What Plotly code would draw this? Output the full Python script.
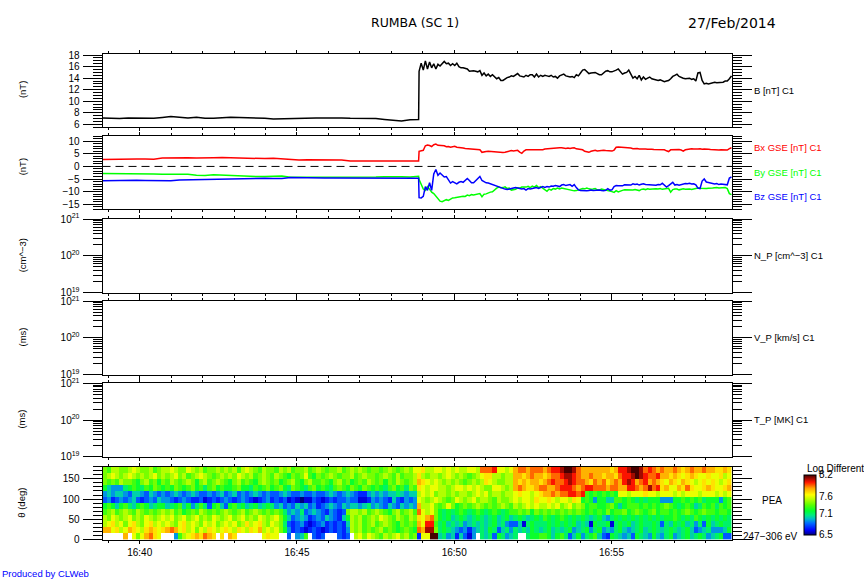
import pandas as pd
import plotly.graph_objects as go

START = pd.Timestamp("2014-02-27 16:38:49")
END = pd.Timestamp("2014-02-27 16:58:50")
W, H = 864, 584

# seconds after START for the magnetic field samples
mag_seconds = [16.3 * i for i in range(38)] + list(range(604, 1201, 4))

b_total = [
    7.1, 7.05, 7.0, 7.1, 7.05, 7.1, 7.05, 7.2, 7.35, 7.25, 7.1, 7.25, 7.05, 7.05, 7.2, 7.25, 7.2, 7.15, 7.2,
    7.05, 6.95, 7.0, 6.95, 7.05, 7.15, 7.1, 7.1, 7.15, 7.1, 7.05, 7.05, 7.1, 7.0, 6.85, 6.75, 6.6, 6.8, 6.85,
    15.2, 16.6, 15.4, 17.0, 15.6, 16.8, 15.8, 16.5, 15.6, 16.4,
    16.1, 16.5, 16.9, 16.5, 16.6, 16.2, 16.5, 16.2, 16.6, 16.0,
    15.8, 15.8, 15.7, 15.6, 15.2, 15.3, 15.3, 15.2, 15.1, 15.3,
    14.5, 14.9, 14.4, 14.7, 14.3, 14.6, 14.2, 13.9, 14.1, 13.6,
    13.6, 13.9, 14.1, 14.2, 14.4, 14.3, 14.6, 14.8, 14.4, 14.3,
    14.2, 14.5, 14.3, 14.6, 14.6, 14.2, 14.7, 14.2, 14.5, 14.3,
    14.5, 14.4, 14.3, 14.5, 14.2, 14.3, 14.0, 14.4, 14.6, 14.7,
    14.4, 14.3, 14.2, 14.3, 14.1, 14.6, 14.4, 14.9, 15.4, 15.5,
    15.1, 14.8, 14.9, 14.9, 15.0, 14.8, 14.6, 14.6, 14.9, 15.2,
    15.3, 15.1, 15.1, 15.2, 15.4, 15.6, 15.1, 14.7, 14.9, 15.0,
    15.4, 14.7, 14.0, 14.3, 13.9, 14.5, 13.7, 14.2, 13.8, 14.0,
    14.2, 13.9, 13.8, 13.7, 13.6, 13.7, 13.5, 13.4, 13.5, 13.6,
    13.9, 14.3, 14.5, 14.7, 14.3, 14.1, 14.0, 13.9, 14.0, 14.0,
    13.8, 13.9, 13.5, 14.9, 15.0, 13.6, 13.0, 13.1, 13.0, 13.1,
    13.2, 13.3, 13.2, 13.2, 13.3, 13.3, 13.5, 13.5, 13.9, 14.4,
]
bx_gse = [
    2.8, 2.9, 2.9, 3.0, 3.0, 3.0, 2.9, 3.3, 3.4, 3.4, 3.4, 3.3, 3.2, 3.4, 3.5, 3.4, 3.4, 3.4, 3.4,
    3.1, 3.2, 3.0, 2.6, 2.6, 2.7, 2.6, 2.6, 2.7, 2.6, 2.2, 2.2, 2.2, 2.2, 2.1, 2.1, 2.1, 2.2, 2.2,
    6.0, 6.2, 6.4, 8.2, 8.5, 8.3, 7.9, 8.6, 8.9, 8.4,
    8.3, 8.0, 8.2, 7.8, 7.9, 7.6, 7.8, 8.0, 7.6, 7.5,
    7.6, 7.3, 7.1, 7.0, 7.0, 6.9, 7.0, 6.8, 6.7, 6.6,
    5.6, 5.9, 5.9, 6.0, 5.9, 5.8, 5.6, 5.5, 5.4, 5.4,
    5.5, 5.6, 5.9, 6.2, 6.3, 6.1, 6.3, 6.4, 5.7, 5.2,
    6.1, 6.6, 6.6, 6.6, 6.7, 6.5, 6.6, 6.4, 6.5, 6.6,
    6.9, 7.0, 7.2, 7.1, 7.1, 7.2, 7.3, 7.4, 7.4, 7.3,
    7.1, 7.3, 7.1, 7.3, 7.4, 7.0, 6.9, 6.8, 6.6, 6.0,
    5.7, 5.6, 6.0, 6.3, 6.4, 6.1, 6.2, 6.5, 6.4, 6.3,
    6.2, 6.1, 6.1, 6.5, 7.6, 7.7, 7.6, 7.6, 7.4, 7.6,
    7.4, 7.3, 7.0, 7.1, 7.1, 6.9, 7.0, 6.9, 6.9, 6.8,
    6.9, 6.8, 6.7, 6.7, 6.7, 6.6, 6.7, 6.6, 6.2, 5.9,
    6.6, 6.7, 6.7, 6.8, 6.7, 6.5, 6.1, 6.6, 6.8, 7.0,
    7.0, 6.9, 6.8, 6.9, 7.0, 6.8, 6.9, 6.7, 6.8, 6.7,
    6.6, 6.7, 6.6, 6.5, 6.6, 6.6, 6.7, 6.5, 7.1, 7.4,
]
by_gse = [
    -2.8, -2.8, -2.9, -2.9, -3.0, -2.9, -3.0, -3.1, -3.1, -3.2, -3.1, -3.5, -3.6, -3.3, -3.5, -3.7, -3.9, -4.0, -4.0,
    -4.0, -3.8, -3.8, -4.3, -4.3, -4.4, -4.3, -4.3, -4.4, -4.3, -4.2, -4.3, -4.2, -4.2, -4.1, -4.0, -4.1, -4.2, -3.9,
    -5.2, -7.5, -9.0, -9.5, -8.0, -9.0, -10.2, -10.8, -11.8, -12.5,
    -13.8, -14.0, -13.6, -13.2, -13.5, -12.9, -12.5, -12.4, -12.2, -12.0,
    -12.0, -11.8, -11.9, -11.4, -11.6, -11.2, -11.3, -11.1, -11.0, -10.8,
    -12.0, -11.0, -10.9, -10.5, -10.2, -10.1, -9.2, -8.6, -8.2, -8.5,
    -8.4, -8.1, -8.8, -8.6, -9.4, -9.2, -9.1, -8.5, -8.6, -8.2,
    -8.3, -8.2, -7.9, -8.4, -7.8, -8.2, -7.6, -8.4, -8.0, -8.6,
    -9.2, -9.9, -9.0, -9.4, -8.8, -9.0, -8.6, -8.9, -8.6, -8.8,
    -8.9, -9.0, -9.3, -9.5, -9.7, -9.6, -9.3, -9.0, -8.8, -8.9,
    -8.6, -8.9, -9.1, -9.0, -8.8, -9.3, -9.4, -9.0, -9.2, -9.1,
    -9.4, -9.7, -10.0, -10.3, -9.6, -10.1, -9.7, -9.5, -9.3, -9.4,
    -9.2, -9.5, -9.4, -9.2, -9.3, -9.6, -9.1, -9.0, -9.2, -8.9,
    -9.1, -9.0, -8.9, -8.9, -9.0, -8.8, -9.1, -8.9, -8.8, -8.7,
    -10.2, -9.2, -9.0, -9.0, -9.3, -9.0, -8.9, -9.1, -9.0, -9.0,
    -9.2, -9.0, -8.9, -8.6, -8.7, -8.8, -8.6, -8.8, -8.7, -8.5,
    -8.6, -8.5, -8.4, -8.6, -8.5, -8.3, -8.4, -8.8, -10.8, -11.2,
]
bz_gse = [
    -5.7, -5.6, -5.5, -5.5, -5.5, -5.6, -5.7, -5.8, -5.7, -5.4, -5.3, -5.4, -5.2, -5.1, -5.1, -5.0, -4.9, -4.8, -4.7,
    -4.7, -4.8, -4.8, -4.4, -4.5, -4.6, -4.6, -4.6, -4.6, -4.6, -4.6, -4.6, -4.7, -4.6, -4.6, -4.6, -4.6, -4.6, -4.7,
    -12.4, -12.5, -11.9, -8.0, -9.5, -6.5, -9.5, -3.0, -1.2, -3.5,
    -2.6, -3.6, -4.2, -4.0, -5.2, -6.6, -6.0, -6.4, -6.9, -6.3,
    -6.0, -6.3, -5.4, -4.8, -5.6, -6.5, -6.5, -5.6, -5.0, -4.0,
    -5.6, -6.2, -6.5, -6.6, -6.9, -7.2, -7.5, -8.0, -8.4, -8.5,
    -8.8, -9.0, -9.2, -9.0, -8.8, -8.6, -8.4, -8.6, -8.8, -9.0,
    -8.8, -9.4, -8.8, -9.0, -8.8, -8.6, -8.4, -8.7, -8.2, -8.0,
    -8.3, -8.0, -8.2, -7.8, -7.9, -7.6, -7.8, -8.0, -7.4, -7.2,
    -7.6, -7.4, -7.2, -7.9, -7.2, -8.4, -9.3, -9.6, -9.7, -9.8,
    -9.7, -9.6, -9.4, -9.6, -9.5, -9.3, -9.4, -9.6, -9.7, -9.5,
    -8.8, -9.4, -9.3, -8.0, -7.6, -7.7, -7.6, -7.7, -7.3, -7.4,
    -7.2, -7.4, -6.9, -7.2, -7.0, -7.4, -7.1, -6.9, -7.2, -7.3,
    -7.1, -7.3, -7.4, -7.5, -7.2, -7.3, -6.7, -7.6, -8.2, -7.6,
    -7.0, -6.3, -7.4, -7.2, -7.5, -7.2, -7.0, -6.8, -6.9, -6.7,
    -7.0, -6.9, -7.3, -8.6, -8.8, -5.8, -5.0, -6.2, -6.4, -6.6,
    -6.8, -7.0, -6.8, -7.2, -7.0, -7.2, -7.4, -7.3, -4.6, -4.2,
]

# PEA pitch angle spectrogram: log flux x10, 0 = no data, one 8 s cell per value
pea_165 = [
    74, 73, 75, 75, 74, 74, 75, 76, 75, 74, 74, 75, 73, 74, 75,
    75, 76, 75, 74, 74, 76, 75, 74, 75, 73, 74, 74, 75, 74, 75,
    74, 75, 73, 75, 76, 75, 74, 73, 75, 74, 74, 73, 75, 74, 75,
    73, 74, 74, 75, 73, 74, 75, 74, 73, 74, 74, 75, 73, 74, 75,
    74, 75, 74, 73, 74, 74, 73, 74, 75, 74, 73, 74, 75, 74, 76,
    76, 77, 75, 75, 76, 76, 75, 76, 75, 76, 75, 75, 76, 76, 75,
    79, 79, 79, 80, 76, 76, 75, 76, 78, 79, 79, 78, 79, 79, 79,
    78, 79, 80, 80, 81, 82, 82, 81, 79, 78, 78, 78, 78, 78, 78,
    78, 77, 78, 80, 80, 81, 82, 82, 81, 79, 80, 79, 78, 79, 78,
    78, 79, 78, 77, 78, 79, 78, 78, 79, 78, 78, 77, 77, 78, 77,
]
pea_150 = [
    74, 75, 76, 75, 74, 75, 76, 75, 74, 75, 74, 75, 76, 74, 75,
    74, 75, 76, 74, 75, 73, 74, 75, 76, 75, 74, 73, 74, 75, 74,
    75, 74, 76, 75, 74, 75, 73, 74, 75, 74, 73, 75, 74, 73, 72,
    74, 73, 74, 76, 73, 72, 74, 73, 74, 75, 74, 73, 74, 74, 75,
    73, 74, 75, 74, 74, 73, 74, 75, 74, 73, 75, 73, 74, 74, 75,
    77, 75, 74, 75, 75, 74, 75, 76, 75, 74, 75, 74, 73, 74, 75,
    76, 77, 77, 75, 75, 74, 75, 75, 78, 78, 77, 78, 79, 78, 78,
    77, 78, 79, 79, 80, 81, 81, 80, 79, 78, 78, 79, 78, 78, 77,
    78, 78, 77, 79, 80, 80, 81, 82, 81, 80, 79, 79, 80, 78, 78,
    77, 78, 77, 76, 77, 78, 77, 76, 76, 77, 76, 76, 77, 75, 76,
]
pea_135 = [
    74, 73, 74, 73, 75, 74, 74, 73, 72, 74, 75, 73, 74, 72, 74,
    73, 75, 74, 73, 74, 75, 74, 72, 74, 75, 73, 74, 75, 74, 73,
    72, 74, 75, 73, 74, 73, 72, 74, 75, 74, 73, 74, 72, 73, 74,
    75, 73, 72, 74, 75, 73, 73, 74, 73, 72, 74, 75, 73, 74, 72,
    73, 74, 73, 75, 74, 73, 74, 72, 74, 73, 75, 74, 73, 74, 75,
    78, 77, 76, 75, 76, 75, 74, 75, 74, 75, 74, 73, 74, 75, 74,
    75, 77, 76, 75, 74, 74, 75, 75, 78, 77, 78, 77, 78, 78, 77,
    78, 79, 80, 79, 79, 80, 81, 80, 79, 79, 78, 77, 79, 78, 79,
    77, 78, 79, 78, 80, 81, 80, 78, 79, 80, 78, 79, 78, 77, 76,
    78, 77, 76, 78, 77, 76, 75, 76, 77, 76, 77, 76, 75, 76, 77,
]
pea_120 = [
    72, 70, 69, 69, 69, 71, 72, 73, 72, 71, 73, 72, 74, 73, 72,
    73, 72, 74, 73, 72, 73, 74, 72, 73, 71, 73, 74, 72, 73, 72,
    72, 73, 74, 72, 72, 71, 73, 72, 73, 74, 72, 73, 74, 72, 71,
    74, 73, 72, 71, 73, 74, 72, 73, 72, 71, 73, 74, 73, 72, 74,
    73, 72, 74, 73, 72, 73, 72, 71, 73, 74, 72, 73, 71, 74, 73,
    77, 76, 75, 76, 76, 75, 75, 74, 75, 76, 76, 75, 76, 75, 76,
    75, 74, 74, 76, 76, 75, 74, 75, 78, 79, 78, 77, 77, 78, 79,
    79, 78, 78, 79, 80, 80, 80, 79, 78, 79, 80, 80, 79, 79, 79,
    78, 79, 79, 78, 78, 80, 80, 79, 78, 79, 81, 79, 80, 77, 78,
    76, 76, 78, 77, 79, 77, 76, 76, 77, 78, 77, 76, 76, 77, 78,
]
pea_105 = [
    69, 70, 69, 70, 70, 69, 68, 70, 70, 69, 68, 70, 69, 68, 69,
    68, 69, 70, 69, 68, 69, 70, 69, 68, 68, 69, 68, 69, 70, 68,
    69, 70, 68, 69, 68, 69, 70, 69, 68, 69, 68, 68, 69, 70, 69,
    68, 68, 69, 68, 68, 69, 68, 68, 69, 70, 69, 68, 69, 70, 69,
    68, 67, 67, 69, 70, 69, 70, 69, 70, 70, 71, 70, 69, 70, 70,
    75, 76, 75, 76, 74, 75, 75, 74, 75, 74, 75, 75, 74, 75, 76,
    75, 76, 74, 75, 75, 74, 75, 75, 76, 77, 76, 76, 75, 76, 77,
    78, 78, 79, 78, 79, 79, 80, 80, 79, 80, 73, 72, 73, 72, 73,
    72, 73, 72, 76, 76, 75, 76, 76, 76, 77, 76, 76, 75, 76, 76,
    76, 75, 76, 75, 76, 76, 76, 75, 76, 76, 76, 75, 76, 75, 76,
]
pea_090 = [
    68, 69, 67, 68, 69, 68, 69, 70, 68, 67, 68, 69, 68, 70, 69,
    69, 68, 67, 68, 69, 68, 67, 67, 68, 66, 67, 68, 67, 68, 69,
    68, 67, 68, 69, 68, 67, 66, 67, 68, 69, 67, 68, 67, 68, 66,
    67, 66, 65, 66, 66, 68, 67, 66, 67, 68, 67, 68, 68, 69, 68,
    68, 66, 66, 67, 69, 68, 69, 68, 67, 70, 68, 67, 69, 68, 69,
    76, 75, 74, 75, 76, 75, 74, 73, 74, 76, 75, 74, 75, 76, 74,
    75, 75, 74, 73, 75, 74, 74, 75, 76, 75, 76, 76, 75, 77, 76,
    76, 77, 76, 75, 76, 76, 75, 77, 76, 72, 73, 72, 69, 72, 72,
    70, 70, 73, 73, 72, 73, 72, 71, 72, 71, 72, 72, 72, 69, 69,
    69, 72, 72, 73, 72, 73, 72, 73, 71, 72, 72, 72, 69, 72, 73,
]
pea_075 = [
    72, 73, 72, 70, 72, 73, 71, 70, 72, 73, 72, 70, 71, 72, 72,
    70, 71, 72, 73, 70, 72, 69, 71, 73, 71, 68, 72, 73, 70, 68,
    72, 73, 71, 72, 70, 71, 72, 70, 71, 72, 71, 69, 70, 68, 69,
    68, 70, 69, 70, 68, 69, 67, 68, 69, 70, 69, 68, 70, 69, 70,
    70, 69, 70, 71, 69, 70, 69, 68, 70, 69, 68, 70, 69, 70, 69,
    78, 75, 75, 76, 74, 73, 74, 76, 74, 72, 73, 74, 73, 74, 75,
    74, 73, 74, 73, 74, 75, 74, 73, 75, 74, 75, 76, 75, 76, 75,
    75, 76, 75, 76, 74, 75, 76, 74, 75, 74, 72, 73, 73, 72, 72,
    73, 74, 72, 70, 72, 73, 73, 73, 72, 73, 72, 73, 72, 73, 74,
    73, 72, 71, 72, 73, 72, 70, 71, 73, 72, 73, 71, 73, 72, 73,
]
pea_060 = [
    73, 74, 75, 73, 74, 75, 74, 73, 75, 74, 73, 74, 73, 74, 75,
    74, 75, 73, 74, 72, 73, 74, 73, 75, 74, 73, 74, 73, 74, 75,
    74, 73, 74, 75, 73, 74, 75, 74, 73, 74, 73, 74, 73, 71, 69,
    70, 69, 71, 68, 69, 70, 69, 68, 67, 69, 68, 67, 68, 74, 75,
    75, 74, 75, 73, 74, 75, 74, 73, 72, 74, 75, 73, 74, 75, 73,
    79, 76, 75, 76, 74, 72, 71, 72, 71, 72, 73, 72, 71, 72, 73,
    72, 71, 72, 73, 72, 71, 72, 73, 73, 74, 73, 74, 72, 74, 73,
    74, 73, 74, 73, 74, 73, 74, 73, 74, 73, 72, 73, 72, 73, 72,
    74, 72, 73, 73, 74, 72, 73, 74, 73, 72, 73, 74, 72, 73, 73,
    72, 73, 72, 73, 74, 73, 72, 73, 74, 73, 73, 72, 73, 73, 72,
]
pea_045 = [
    75, 74, 76, 75, 74, 75, 76, 74, 75, 74, 76, 75, 74, 75, 76,
    75, 76, 74, 75, 76, 74, 75, 76, 74, 75, 74, 76, 75, 74, 75,
    76, 74, 75, 76, 74, 75, 74, 76, 75, 74, 75, 76, 74, 72, 70,
    68, 69, 70, 69, 67, 68, 69, 68, 70, 69, 68, 67, 70, 72, 75,
    74, 75, 73, 74, 75, 74, 76, 75, 74, 73, 75, 74, 73, 75, 74,
    77, 76, 78, 79, 74, 72, 71, 72, 70, 71, 72, 71, 70, 71, 72,
    71, 70, 71, 72, 70, 71, 72, 70, 71, 72, 71, 70, 71, 72, 71,
    73, 72, 71, 72, 73, 72, 71, 72, 71, 72, 71, 70, 71, 72, 70,
    69, 71, 72, 71, 72, 71, 72, 71, 72, 71, 72, 71, 72, 71, 72,
    72, 73, 72, 71, 72, 71, 73, 72, 71, 72, 71, 72, 71, 72, 71,
]
pea_030 = [
    75, 76, 77, 75, 76, 74, 76, 77, 75, 74, 76, 77, 75, 76, 75,
    76, 75, 74, 76, 77, 75, 76, 75, 74, 76, 75, 76, 74, 75, 76,
    75, 76, 74, 75, 77, 75, 76, 77, 75, 74, 76, 75, 74, 71, 68,
    67, 68, 69, 67, 66, 67, 68, 69, 67, 68, 67, 68, 67, 70, 75,
    74, 75, 73, 74, 75, 73, 74, 75, 74, 73, 72, 74, 73, 74, 73,
    78, 76, 80, 80, 73, 71, 72, 70, 71, 70, 71, 69, 70, 71, 70,
    71, 70, 71, 72, 70, 71, 69, 68, 68, 70, 66, 71, 72, 71, 71,
    71, 72, 71, 72, 71, 72, 71, 72, 70, 71, 70, 66, 72, 71, 71,
    72, 66, 71, 72, 71, 72, 70, 71, 72, 71, 71, 72, 71, 68, 71,
    70, 72, 71, 72, 70, 71, 69, 71, 68, 72, 70, 71, 72, 71, 71,
]
pea_015 = [
    78, 78, 76, 77, 75, 76, 78, 77, 76, 75, 77, 78, 77, 76, 77,
    78, 79, 78, 76, 77, 75, 76, 74, 76, 75, 77, 76, 75, 76, 77,
    76, 75, 77, 76, 75, 77, 76, 78, 75, 76, 75, 76, 74, 72, 69,
    67, 68, 67, 66, 67, 68, 67, 66, 67, 68, 67, 68, 67, 69, 75,
    74, 75, 73, 74, 73, 74, 75, 73, 74, 73, 72, 73, 74, 73, 72,
    79, 78, 81, 81, 74, 71, 72, 71, 70, 69, 68, 69, 67, 69, 70,
    71, 70, 72, 71, 68, 70, 71, 69, 71, 70, 71, 70, 72, 71, 70,
    71, 72, 70, 71, 70, 71, 72, 69, 70, 71, 72, 69, 71, 72, 69,
    70, 69, 71, 72, 70, 69, 70, 71, 72, 70, 71, 72, 71, 70, 71,
    72, 71, 70, 71, 72, 70, 68, 69, 70, 71, 69, 69, 69, 70, 72,
]
pea_000 = [
    0, 0, 0, 0, 0, 78, 0, 76, 74, 76, 78, 79, 77, 76, 0,
    0, 0, 69, 73, 75, 76, 77, 78, 77, 79, 78, 77, 0, 77, 0,
    78, 77, 0, 0, 0, 0, 0, 0, 76, 77, 76, 76, 0, 0, 68,
    0, 69, 70, 73, 0, 68, 67, 68, 0, 0, 0, 68, 67, 68, 0,
    75, 76, 74, 76, 75, 74, 73, 75, 74, 75, 76, 74, 75, 73, 74,
    67, 76, 76, 82, 82, 70, 71, 69, 70, 67, 70, 68, 66, 69, 0,
    71, 70, 71, 68, 72, 71, 69, 70, 71, 0, 0, 71, 72, 72, 73,
    73, 72, 70, 72, 73, 71, 68, 70, 72, 69, 71, 72, 73, 70, 68,
    67, 72, 71, 70, 69, 70, 68, 72, 71, 70, 69, 72, 70, 69, 71,
    72, 69, 70, 71, 72, 70, 71, 72, 71, 69, 70, 71, 72, 68, 68,
]
theta_centres = [7.5, 22.5, 37.5, 52.5, 67.5, 82.5, 97.5, 112.5, 127.5, 142.5, 157.5, 172.5]
pea_rows = [pea_000, pea_015, pea_030, pea_045, pea_060, pea_075, pea_090, pea_105, pea_120, pea_135, pea_150, pea_165]

rainbow = [
    [0.0, "rgb(0,0,120)"], [0.08, "rgb(0,0,255)"], [0.2, "rgb(0,110,255)"], [0.27, "rgb(0,190,200)"],
    [0.33, "rgb(0,235,130)"], [0.4, "rgb(0,255,50)"], [0.5, "rgb(90,255,0)"], [0.6, "rgb(190,255,0)"],
    [0.67, "rgb(255,255,0)"], [0.78, "rgb(255,165,0)"], [0.88, "rgb(255,20,0)"], [1.0, "rgb(70,0,0)"],
]

FONT = "Liberation Sans"
PANELS = [(48, 123), (132, 207), (217, 292), (301, 376), (385, 460), (470, 545)]
LOG_TICKS = [1e19, 1e20, 1e21]
LOG_LABELS = ["10<sup>19</sup>", "10<sup>20</sup>", "10<sup>21</sup>"]
log_minor = [m * 10.0 ** e for e in (19, 20) for m in range(2, 10)]


def to_time(seconds):
    return START + pd.Timedelta(seconds=seconds)


def xaxis_style(labels=False, anchor="y"):
    return dict(
        domain=[102.5 / W, 732 / W], range=[START, END], type="date", anchor=anchor,
        showgrid=False, zeroline=False, showline=True, linecolor="black", linewidth=1, mirror="ticks",
        ticks="outside", ticklen=3, tickwidth=1, tickcolor="black",
        tick0="2014-02-27 16:40:00", dtick=300000, tickformat="%H:%M", showticklabels=labels,
        minor=dict(dtick=60000, ticks="outside", ticklen=2, tickwidth=1, tickcolor="black", showgrid=False),
        tickfont=dict(family=FONT, size=10, color="black"),
    )


def yaxis_style(top, bottom, anchor, **kw):
    style = dict(
        domain=[1 - bottom / H, 1 - top / H], anchor=anchor,
        showgrid=False, zeroline=False, showline=True, linecolor="black", linewidth=1, mirror="ticks",
        ticks="outside", ticklen=19, tickwidth=1, tickcolor="black", ticklabelstandoff=1,
        tickfont=dict(family=FONT, size=10, color="black"),
    )
    style.update(kw)
    return style


def minor_ticks(**kw):
    return dict(ticks="outside", ticklen=9, tickwidth=1, tickcolor="black", showgrid=False, **kw)


def label(x, y, text, color="black", size=9.5, anchor="left", angle=0, family=FONT):
    return dict(
        x=x / W, y=1 - y / H, xref="paper", yref="paper", text=text, showarrow=False, xanchor=anchor, yanchor="middle",
        textangle=angle, font=dict(family=family, size=size, color=color),
    )


times = [to_time(s) for s in mag_seconds]
pea_times = [to_time(4 + 8 * i) for i in range(len(pea_000))]
pea_z = [[v / 10 if v else None for v in row] for row in pea_rows]

fig = go.Figure()
line_args = dict(mode="lines", showlegend=False)
fig.add_trace(go.Scatter(x=times, y=b_total, xaxis="x", yaxis="y", line=dict(color="black", width=1.5), **line_args))
fig.add_trace(go.Scatter(x=[START, END], y=[0, 0], xaxis="x2", yaxis="y2", mode="lines", showlegend=False,
                         line=dict(color="black", width=1, dash="8px 5px")))
fig.add_trace(go.Scatter(x=times, y=bx_gse, xaxis="x2", yaxis="y2", line=dict(color="rgb(255,0,0)", width=1.5), **line_args))
fig.add_trace(go.Scatter(x=times, y=by_gse, xaxis="x2", yaxis="y2", line=dict(color="rgb(0,255,0)", width=1.5), **line_args))
fig.add_trace(go.Scatter(x=times, y=bz_gse, xaxis="x2", yaxis="y2", line=dict(color="rgb(0,0,255)", width=1.5), **line_args))
# no plasma moments that day: empty traces keep the three axes on the page
for i in (3, 4, 5):
    fig.add_trace(go.Scatter(x=[], y=[], xaxis="x%d" % i, yaxis="y%d" % i, mode="lines", showlegend=False))
fig.add_trace(go.Heatmap(
    x=pea_times, y=theta_centres, z=pea_z, xaxis="x6", yaxis="y6", zmin=6.5, zmax=8.2, colorscale=rainbow,
    hoverongaps=False,
    colorbar=dict(
        x=804 / W, xanchor="left", xpad=0, y=1 - 540 / H, yanchor="bottom", ypad=0, len=61 / H, lenmode="fraction",
        thickness=12, outlinecolor="black", outlinewidth=1, ticks="", tickvals=[6.5, 7.1, 7.6, 8.2],
        ticktext=["6.5", "7.1", "7.6", "8.2"], tickfont=dict(family=FONT, size=10, color="black"),
    ),
))

layout = dict(
    width=W, height=H, margin=dict(l=0, r=0, t=0, b=0), paper_bgcolor="white", plot_bgcolor="white",
    font=dict(family=FONT, color="black"),
)
for i in range(1, 7):
    suffix = "" if i == 1 else str(i)
    layout["xaxis" + suffix] = xaxis_style(labels=i == 6, anchor="y" + suffix)
layout["yaxis"] = yaxis_style(48, 123, "x", range=[5.5, 18.2], tickmode="array", tickvals=[6, 8, 10, 12, 14, 16, 18],
                              minor=minor_ticks(dtick=0.5))
layout["yaxis2"] = yaxis_style(132, 207, "x2", range=[-17.06, 12.06], tickmode="array", tickvals=[-15, -10, -5, 0, 5, 10],
                               ticktext=["\u221215", "\u221210", "\u22125", "0", "5", "10"], minor=minor_ticks(dtick=1))
for i, (top, bottom) in zip((3, 4, 5), PANELS[2:5]):
    layout["yaxis%d" % i] = yaxis_style(top, bottom, "x%d" % i, type="log", range=[19, 21], tickmode="array",
                                        tickvals=LOG_TICKS, ticktext=LOG_LABELS,
                                        minor=minor_ticks(tickmode="array", tickvals=log_minor))
layout["yaxis6"] = yaxis_style(470, 545, "x6", range=[0, 180], tickmode="array", tickvals=[0, 50, 100, 150],
                               minor=minor_ticks(dtick=10))
layout["annotations"] = [
    label(369, 16, "RUMBA (SC 1)", size=12.5, family="DejaVu Sans"),
    label(686, 16, "27/Feb/2014", size=14, family="DejaVu Sans"),
    label(22, 85, "(nT)", anchor="center", angle=-90),
    label(22, 164, "(nT)", anchor="center", angle=-90),
    label(22, 254, "(cm^\u22123)", anchor="center", angle=-90),
    label(22, 338, "(ms)", anchor="center", angle=-90),
    label(22, 422, "(ms)", anchor="center", angle=-90),
    label(22, 507, "\u03b8 (deg)", anchor="center", angle=-90),
    label(752, 85, "B [nT] C1"),
    label(752, 144, "Bx GSE [nT] C1", color="rgb(255,0,0)"),
    label(752, 169, "By GSE [nT] C1", color="rgb(0,255,0)"),
    label(752, 194, "Bz GSE [nT] C1", color="rgb(0,0,255)"),
    label(752, 254, "N_P [cm^\u22123] C1"),
    label(752, 338, "V_P [km/s] C1"),
    label(752, 422, "T_P [MK] C1"),
    label(760, 505, "PEA", size=10),
    label(741, 542, "247\u2212306 eV", size=10),
    label(805, 472, "Log Differenti", size=10),
    label(0, 579, "Produced by CLWeb", color="rgb(0,0,255)"),
]
fig.update_layout(**layout)

fig.write_html("out.html", config=dict(displayModeBar=False), post_script="document.body.style.margin='0';")
